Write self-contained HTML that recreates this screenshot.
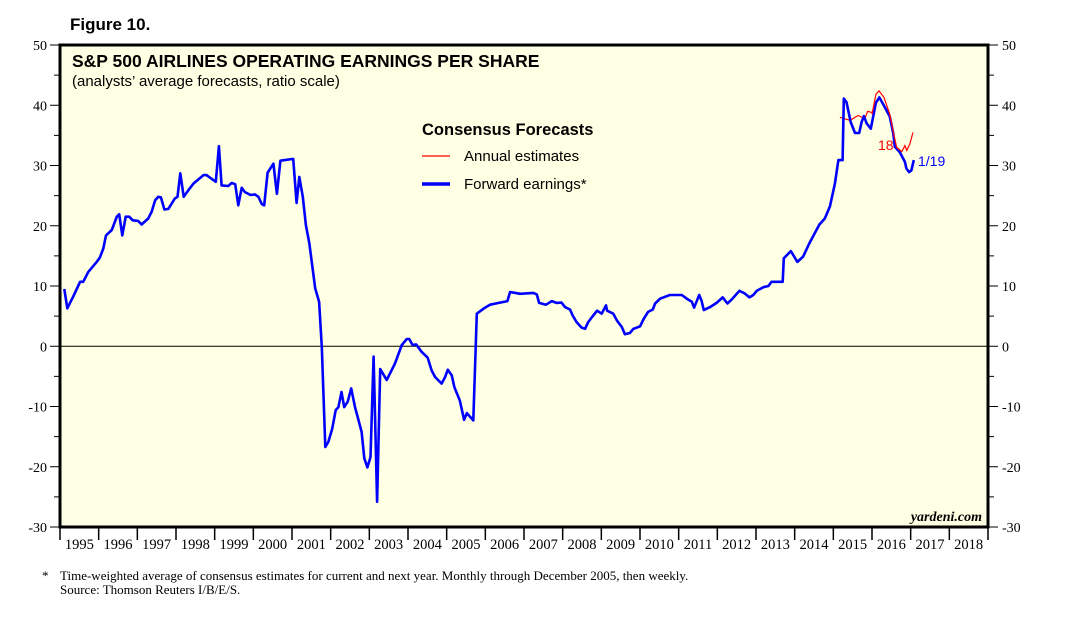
<!DOCTYPE html>
<html><head><meta charset="utf-8"><style>
body{margin:0;background:#fff;}
svg{display:block;font-family:"Liberation Sans",Arial,sans-serif;}
</style></head><body>
<svg id="chart" width="1074" height="625" viewBox="0 0 1074 625">
<text x="70" y="30" font-size="17" font-weight="bold">Figure 10.</text>
<rect x="60" y="45" width="928" height="482" fill="#ffffe3"/>
<g id="grid"></g>
<g id="series"></g>
<rect x="60" y="45" width="928" height="482" fill="none" stroke="#000" stroke-width="3"/>
<text x="72" y="67" font-size="17.5" font-weight="bold">S&amp;P 500 AIRLINES OPERATING EARNINGS PER SHARE</text>
<text x="72" y="86" font-size="15">(analysts’ average forecasts, ratio scale)</text>
<text x="422" y="135" font-size="16.5" font-weight="bold">Consensus Forecasts</text>
<line x1="422" y1="156" x2="450" y2="156" stroke="#f00" stroke-width="1.2"/>
<text x="464" y="161" font-size="15">Annual estimates</text>
<line x1="422" y1="184" x2="450" y2="184" stroke="#00f" stroke-width="3.5"/>
<text x="464" y="189" font-size="15">Forward earnings*</text>
<text x="878" y="150" font-size="14" fill="#f00">18</text>
<text x="918" y="166" font-size="14" fill="#00f">1/19</text>
<text x="982" y="521" font-size="14" font-style="italic" font-weight="bold" text-anchor="end" font-family="Liberation Serif,serif">yardeni.com</text>
<g font-family="Liberation Serif,serif" font-size="13">
<text x="42" y="580">*</text>
<text x="60" y="580">Time-weighted average of consensus estimates for current and next year. Monthly through December 2005, then weekly.</text>
<text x="60" y="594">Source: Thomson Reuters I/B/E/S.</text>
</g>
</svg>
<script>
// forward earnings: years since 1995, values
const fwdT=[0.11,0.19,0.34,0.52,0.60,0.73,0.95,1.03,1.12,1.19,1.34,1.47,1.53,1.61,1.70,1.79,1.88,2.02,2.11,2.28,2.37,2.46,2.54,2.61,2.70,2.80,2.97,3.04,3.11,3.20,3.32,3.45,3.71,3.79,3.92,4.03,4.11,4.18,4.35,4.44,4.53,4.61,4.70,4.78,4.93,5.04,5.13,5.22,5.28,5.37,5.52,5.61,5.70,6.03,6.12,6.19,6.28,6.36,6.45,6.60,6.70,6.77,6.86,6.94,7.04,7.13,7.20,7.28,7.35,7.44,7.53,7.63,7.71,7.80,7.87,7.95,8.03,8.11,8.20,8.28,8.45,8.66,8.84,8.97,9.03,9.12,9.21,9.35,9.51,9.61,9.70,9.87,9.96,10.03,10.13,10.20,10.34,10.45,10.52,10.69,10.78,10.99,11.12,11.38,11.57,11.64,11.90,12.24,12.33,12.39,12.57,12.72,12.84,12.97,13.06,13.19,13.26,13.36,13.49,13.58,13.66,13.79,13.89,14.01,14.12,14.15,14.31,14.40,14.53,14.61,14.74,14.83,15.00,15.10,15.21,15.33,15.39,15.52,15.77,16.08,16.21,16.34,16.40,16.53,16.59,16.65,16.81,16.98,17.14,17.26,17.37,17.57,17.71,17.83,17.93,18.02,18.19,18.32,18.40,18.53,18.69,18.72,18.90,19.07,19.22,19.38,19.64,19.78,19.91,20.04,20.13,20.24,20.27,20.34,20.45,20.56,20.67,20.73,20.79,20.86,20.97,21.10,21.19,21.33,21.46,21.55,21.59,21.72,21.85,21.89,21.96,22.02,22.08];
const fwdV=[9.5,6.3,8.2,10.7,10.7,12.3,14.0,14.7,16.2,18.4,19.3,21.5,21.9,18.4,21.5,21.5,20.9,20.8,20.2,21.2,22.3,24.2,24.8,24.7,22.7,22.8,24.5,24.8,28.7,24.8,25.9,27.0,28.4,28.4,27.8,27.3,33.2,26.7,26.6,27.1,26.9,23.4,26.3,25.6,25.1,25.2,24.8,23.6,23.4,28.8,30.3,25.3,30.8,31.1,23.8,28.1,24.8,20.1,17.0,9.6,7.4,-0.1,-16.7,-15.9,-13.7,-10.6,-10.1,-7.6,-10.1,-9.2,-7.0,-10.1,-12.0,-14.2,-18.6,-20.1,-18.4,-1.7,-25.8,-3.8,-5.6,-2.9,0.2,1.2,1.2,0.2,0.3,-0.9,-1.9,-4.0,-5.1,-6.2,-5.1,-3.9,-4.8,-6.8,-9.0,-12.2,-11.1,-12.3,5.4,6.4,6.9,7.25,7.5,9.0,8.7,8.85,8.6,7.2,6.9,7.5,7.2,7.25,6.5,6.1,5.1,4.0,3.1,2.9,4.0,5.1,5.9,5.4,6.8,5.9,5.4,4.3,3.2,2.0,2.2,2.9,3.3,4.6,5.7,6.1,7.1,7.9,8.5,8.5,7.9,7.4,6.4,8.5,7.6,6.0,6.5,7.2,8.1,7.1,7.75,9.2,8.75,8.1,8.5,9.2,9.8,10.0,10.7,10.7,10.7,14.6,15.8,14.0,14.9,17.1,20.2,21.2,23.2,27.0,30.9,30.9,41.1,40.5,37.2,35.4,35.4,37.2,38.2,37.0,36.1,40.4,41.3,39.7,38.1,35.3,33.1,32.2,30.6,29.5,28.9,29.2,30.9];
const est17T=[20.17,20.43,20.64,20.82,20.89,21.00];
const est17V=[38.0,37.5,38.3,37.8,39.0,38.8];
const est18T=[21.00,21.10,21.18,21.31,21.46,21.57,21.64,21.77,21.85,21.90,21.98,22.06];
const est18V=[38.5,41.8,42.4,41.3,38.5,35.0,33.0,32.3,33.3,32.5,33.6,35.5];
const yTicks=[50,40,30,20,10,0,-10,-20,-30];
const years=[1995,1996,1997,1998,1999,2000,2001,2002,2003,2004,2005,2006,2007,2008,2009,2010,2011,2012,2013,2014,2015,2016,2017,2018];
const NS='http://www.w3.org/2000/svg';
const X0=60,X1=988,Y0=45,Y1=527,VMAX=50,VMIN=-30;
const xs=t=>X0+t*(X1-X0)/24;
const ys=v=>Y0+(VMAX-v)*(Y1-Y0)/(VMAX-VMIN);
function mk(tag,attrs,parent){const e=document.createElementNS(NS,tag);for(const k in attrs)e.setAttribute(k,attrs[k]);parent.appendChild(e);return e;}
const svg=document.getElementById('chart');
const grid=document.getElementById('grid');
const ser=document.getElementById('series');
let z=mk('line',{x1:X0,x2:X1,y1:ys(0),y2:ys(0),stroke:'#000','stroke-width':1},grid);


for(let v=VMIN;v<=VMAX;v+=5){
  const y=ys(v),major=v%10===0;
  let a=mk('line',{x1:major?50:54,x2:X0,y1:y,y2:y,stroke:'#000','stroke-width':1},svg);
  
  
  let b=mk('line',{x1:X1,x2:major?998:994,y1:y,y2:y,stroke:'#000','stroke-width':1},svg);
  
  
}
yTicks.forEach(v=>{
  const y=ys(v);
  let l=mk('text',{x:47,y:y+5,'text-anchor':'end','font-size':14,'font-family':'Liberation Serif,serif'},svg);
  l.textContent=v;
  
  
  let r=mk('text',{x:1002,y:y+5,'font-size':14,'font-family':'Liberation Serif,serif'},svg);
  r.textContent=v;
  
  
});
years.forEach((yr,i)=>{
  let t=mk('line',{x1:xs(i),x2:xs(i),y1:Y1,y2:Y1+13,stroke:'#000','stroke-width':1.5},svg);
  
  
  let l=mk('text',{x:xs(i+0.5),y:Y1+22,'text-anchor':'middle','font-size':14.5,'font-family':'Liberation Serif,serif'},svg);
  l.textContent=yr;
  
  
});
let t=mk('line',{x1:xs(24),x2:xs(24),y1:Y1,y2:Y1+13,stroke:'#000','stroke-width':1.5},svg);


function path(T,V){return T.map((tt,i)=>(i?'L':'M')+xs(tt).toFixed(1)+','+ys(V[i]).toFixed(1)).join('');}
let r17=mk('path',{d:path(est17T,est17V),fill:'none',stroke:'#f00','stroke-width':1.2},ser);


let fw=mk('path',{d:path(fwdT,fwdV),fill:'none',stroke:'#00f','stroke-width':2.6,'stroke-linejoin':'round'},ser);


let r18=mk('path',{d:path(est18T,est18V),fill:'none',stroke:'#f00','stroke-width':1.2},ser);


</script>
</body></html>
